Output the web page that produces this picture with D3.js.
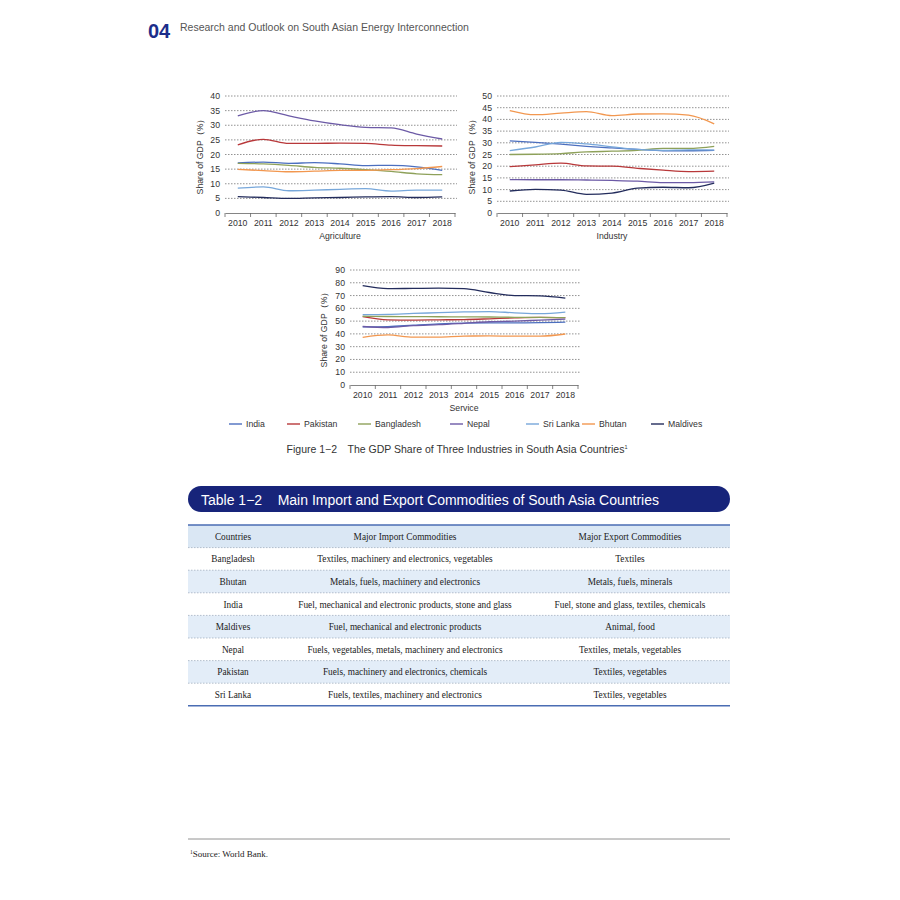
<!DOCTYPE html>
<html><head><meta charset="utf-8">
<script src="https://cdn.jsdelivr.net/npm/d3@7"></script>
<style>body{margin:0;background:#fff}svg{display:block}</style>
</head><body>
<svg id="page" width="900" height="900"></svg>
<script>
const years = ["2010","2011","2012","2013","2014","2015","2016","2017","2018"];
const countries = ["India","Pakistan","Bangladesh","Nepal","Sri Lanka","Bhutan","Maldives"];
const countryColors = ["#4c6fbf","#b8383a","#8ea15a","#6c5aa6","#77a7da","#f2974f","#232c5c"];

// series order follows countries
const agriculture = [
  [17.1,17.4,17.0,17.2,16.8,16.2,16.3,15.8,14.6],
  [23.3,25.2,23.8,23.8,23.9,23.8,23.2,23.0,22.9],
  [17.0,16.8,16.3,15.6,15.3,14.8,14.2,13.4,13.1],
  [33.2,35.0,33.2,31.5,30.2,29.3,29.1,27.0,25.3],
  [8.5,8.9,7.6,7.8,8.1,8.3,7.5,7.8,7.8],
  [14.9,14.5,14.1,14.3,14.6,14.6,14.8,15.2,15.9],
  [5.6,5.3,5.0,5.2,5.3,5.5,5.6,5.3,5.5]
];
const industry = [
  [30.8,30.2,29.4,28.5,27.8,27.2,26.6,26.6,26.8],
  [19.8,20.6,21.3,20.1,20.0,19.1,18.3,17.7,17.9],
  [25.0,25.1,25.4,26.1,26.4,26.8,27.6,27.6,28.5],
  [14.3,14.2,14.2,14.1,13.9,13.6,13.0,13.0,13.3],
  [26.7,28.2,30.2,29.5,28.3,27.2,26.8,27.0,26.9],
  [43.8,42.0,42.7,43.3,41.6,42.3,42.4,41.8,38.1],
  [9.4,10.1,9.8,8.0,8.5,10.6,11.0,10.8,12.8]
];
const service = [
  [45.5,45.7,46.8,47.8,48.4,48.6,48.6,48.8,49.2],
  [53.5,51.0,50.8,51.0,51.2,51.8,52.5,52.9,52.7],
  [53.8,53.6,53.5,53.4,53.3,53.2,53.0,53.0,52.8],
  [45.8,45.0,46.5,47.2,48.3,49.5,50.0,50.8,51.6],
  [55.0,55.3,56.0,56.6,57.2,57.5,56.5,55.8,57.0],
  [37.3,39.2,37.4,37.5,38.3,38.4,38.2,38.2,39.9],
  [77.7,75.4,75.6,75.8,75.4,72.4,70.0,69.8,68.0]
];
const agriTicks = [0,5,10,15,20,25,30,35,40];
const industryTicks = [0,5,10,15,20,25,30,35,40,45,50];
const serviceTicks = [0,10,20,30,40,50,60,70,80,90];

const tableHeaders = ["Countries","Major Import Commodities","Major Export Commodities"];
const tableCountries = ["Bangladesh","Bhutan","India","Maldives","Nepal","Pakistan","Sri Lanka"];
const tableImports = [
  "Textiles, machinery and electronics, vegetables",
  "Metals, fuels, machinery and electronics",
  "Fuel, mechanical and electronic products, stone and glass",
  "Fuel, mechanical and electronic products",
  "Fuels, vegetables, metals, machinery and electronics",
  "Fuels, machinery and electronics, chemicals",
  "Fuels, textiles, machinery and electronics"
];
const tableExports = [
  "Textiles",
  "Metals, fuels, minerals",
  "Fuel, stone and glass, textiles, chemicals",
  "Animal, food",
  "Textiles, metals, vegetables",
  "Textiles, vegetables",
  "Textiles, vegetables"
];

const svg = d3.select("#page");
const SANS = "'Liberation Sans', Arial, sans-serif";
const SERIF = "'Liberation Serif', 'Times New Roman', serif";

// header
svg.append("text").attr("x",148).attr("y",38).attr("font-family",SANS).attr("font-weight","bold")
  .attr("font-size",20).attr("fill","#1c2d8a").text("04");
svg.append("text").attr("x",180).attr("y",31).attr("font-family",SANS)
  .attr("font-size",10.5).attr("fill","#555").text("Research and Outlook on South Asian Energy Interconnection");

function drawChart(cfg){
  const g = svg.append("g");
  const x = d3.scaleBand().domain(years).range([cfg.x0,cfg.x1]);
  const y = d3.scaleLinear().domain([0,cfg.max]).range([cfg.y0,cfg.y1]);
  g.selectAll("line.grid").data(cfg.ticks.filter(t=>t>0)).join("line")
    .attr("x1",cfg.x0).attr("x2",cfg.x1+2)
    .attr("y1",d=>y(d)).attr("y2",d=>y(d))
    .attr("stroke","#777").attr("stroke-width",0.8).attr("stroke-dasharray","1.5,1.5");
  g.selectAll("text.yl").data(cfg.ticks).join("text")
    .attr("x",cfg.x0-5).attr("y",d=>y(d)+3)
    .attr("text-anchor","end").attr("font-family",SANS).attr("font-size",8.7).attr("fill","#333")
    .text(d=>d);
  const ax = g.append("g").attr("transform",`translate(0,${cfg.y0})`)
    .call(d3.axisBottom(x).tickSize(0).tickPadding(7));
  ax.select(".domain").attr("stroke","#666").attr("stroke-width",0.8);
  ax.selectAll("text").attr("font-family",SANS).attr("font-size",8.7).attr("fill","#333");
  const bounds = years.map(d=>x(d)).concat([cfg.x1]);
  g.selectAll("line.xt").data(bounds).join("line")
    .attr("x1",d=>d).attr("x2",d=>d).attr("y1",cfg.y0).attr("y2",cfg.y0+4)
    .attr("stroke","#666").attr("stroke-width",0.8);
  const line = d3.line().x((d,i)=>x(years[i])+x.bandwidth()/2).y(d=>y(d)).curve(d3.curveMonotoneX);
  g.selectAll("path.s").data(cfg.data).join("path")
    .attr("d",d=>line(d)).attr("fill","none")
    .attr("stroke",(d,i)=>countryColors[i]).attr("stroke-width",1.3);
  g.append("text").attr("x",(cfg.x0+cfg.x1)/2).attr("y",cfg.y0+26)
    .attr("text-anchor","middle").attr("font-family",SANS).attr("font-size",8.7).attr("fill","#333")
    .text(cfg.title);
  g.append("text").attr("transform",`translate(${cfg.ytx},${(cfg.y0+cfg.y1)/2}) rotate(-90)`)
    .attr("text-anchor","middle").attr("font-family",SANS).attr("font-size",8.7).attr("fill","#333")
    .text("Share of GDP（%）");
}

drawChart({x0:225,x1:455,y0:213,y1:96,max:40,ticks:agriTicks,data:agriculture,title:"Agriculture",ytx:203});
drawChart({x0:497,x1:727,y0:213,y1:96,max:50,ticks:industryTicks,data:industry,title:"Industry",ytx:475});
drawChart({x0:350,x1:578,y0:385,y1:270,max:90,ticks:serviceTicks,data:service,title:"Service",ytx:327});

const legX = [229,287,358,450,526,582,651];
const lg = svg.append("g");
countries.forEach((c,i)=>{
  lg.append("line").attr("x1",legX[i]).attr("x2",legX[i]+13).attr("y1",424).attr("y2",424)
    .attr("stroke",countryColors[i]).attr("stroke-width",1.4);
  lg.append("text").attr("x",legX[i]+17).attr("y",427).attr("font-family",SANS)
    .attr("font-size",8.7).attr("fill","#333").text(c);
});

const cap = svg.append("text").attr("x",457).attr("y",453).attr("text-anchor","middle")
  .attr("font-family",SANS).attr("font-size",10.5).attr("fill","#333");
cap.append("tspan").text("Figure 1−2\u2003The GDP Share of Three Industries in South Asia Countries");
cap.append("tspan").attr("dy",-4).attr("font-size",5.5).text("1");

svg.append("rect").attr("x",188).attr("y",486).attr("width",542).attr("height",26).attr("rx",13)
  .attr("fill","#17247a");
svg.append("text").attr("x",201).attr("y",505).attr("font-family",SANS).attr("font-size",14)
  .attr("fill","#fff").attr("xml:space","preserve").text("Table 1−2    Main Import and Export Commodities of South Asia Countries");

const tTop = 525, rowH = 22.6;
const colX = [233,405,630];
const rows = tableCountries.map((c,i)=>[c,tableImports[i],tableExports[i]]);
const allRows = [tableHeaders].concat(rows);
const tg = svg.append("g");
allRows.forEach((r,i)=>{
  const yTop = tTop + i*rowH;
  if(i%2===0){
    tg.append("rect").attr("x",188).attr("y",yTop).attr("width",542).attr("height",rowH)
      .attr("fill", i===0 ? "#dae7f4" : "#e3edf8");
  }
  r.forEach((t,j)=>{
    tg.append("text").attr("x",colX[j]).attr("y",yTop+rowH/2+3.5).attr("text-anchor","middle")
      .attr("font-family",SERIF).attr("font-size",9.3).attr("fill","#222").text(t);
  });
  if(i>0){
    tg.append("line").attr("x1",188).attr("x2",730).attr("y1",yTop).attr("y2",yTop)
      .attr("stroke","#9aa6b8").attr("stroke-width",0.7).attr("stroke-dasharray","1.5,1.5");
  }
});
tg.append("line").attr("x1",188).attr("x2",730).attr("y1",tTop).attr("y2",tTop)
  .attr("stroke","#4a6db3").attr("stroke-width",1.3);
const tBottom = tTop + allRows.length*rowH;
tg.append("line").attr("x1",188).attr("x2",730).attr("y1",tBottom).attr("y2",tBottom)
  .attr("stroke","#4a6db3").attr("stroke-width",1.5);

svg.append("line").attr("x1",188).attr("x2",730).attr("y1",839).attr("y2",839)
  .attr("stroke","#777").attr("stroke-width",0.8);
const fn = svg.append("text").attr("x",190).attr("y",857).attr("font-family",SERIF)
  .attr("font-size",9).attr("fill","#222");
fn.append("tspan").attr("font-size",5.5).attr("dy",-3).text("1");
fn.append("tspan").attr("dy",3).text("Source: World Bank.");
</script>
</body></html>
